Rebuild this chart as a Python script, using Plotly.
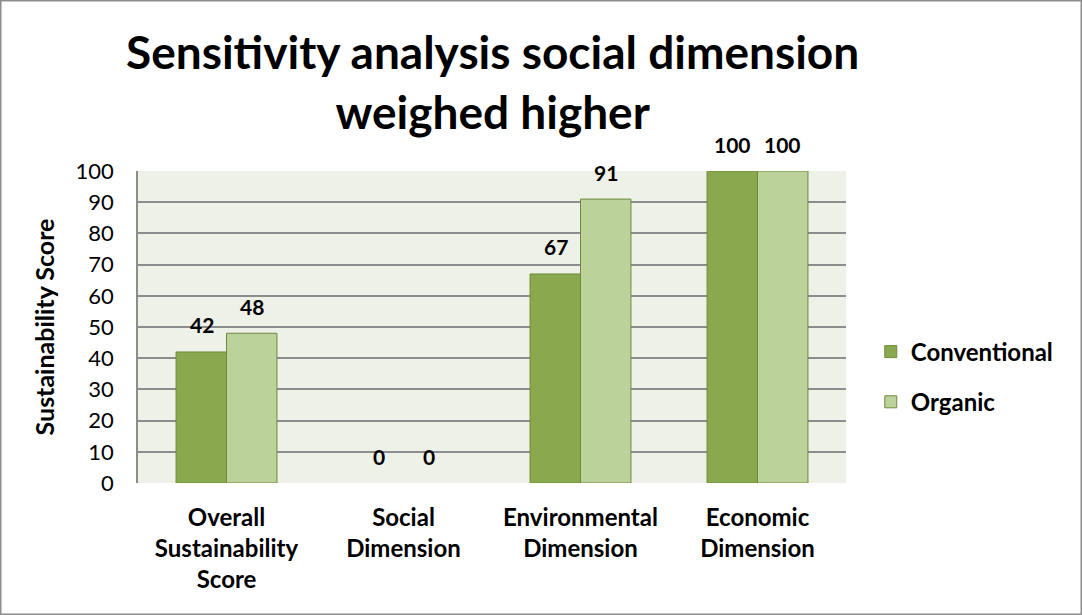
import plotly.graph_objects as go

categories = ["Overall<br>Sustainability<br>Score", "Social<br>Dimension",
              "Environmental<br>Dimension", "Economic<br>Dimension"]
conventional = [42, 0, 67, 100]
organic = [48, 0, 91, 100]
y_ticks = list(range(0, 101, 10))

FONT = "Lato"
C_CONV = "#8aa94f"
C_ORG = "#bbd29a"
EDGE = "#6f8a3c"
GRID = "#8c8c8c"

# plot-area geometry in pixels
L, R, T, B = 138, 236, 171, 132
PW, PH = 1082 - L - R, 615 - T - B

fig = go.Figure()
for name, vals, color in (("Conventional", conventional, C_CONV),
                          ("Organic", organic, C_ORG)):
    fig.add_trace(go.Bar(
        name=f"<b>{name}</b>", x=categories, y=vals, legendgroup=name,
        marker=dict(color=color,
                    line=dict(color=EDGE, width=[1 if v else 0 for v in vals]))))

# value labels above each bar
for vals, dx in ((conventional, -25), (organic, 25)):
    for cat, v in zip(categories, vals):
        fig.add_annotation(x=cat, y=v, text=f"<b>{v}</b>", showarrow=False,
                           xshift=dx, yshift=27,
                           font=dict(family=FONT, size=21, color="black"))

# chart title
fig.add_annotation(xref="paper", yref="paper", x=0.5, y=(PH + T - 82) / PH,
                   xanchor="center", yanchor="middle", showarrow=False,
                   text="<b>Sensitivity analysis social dimension<br>weighed higher</b>",
                   font=dict(family=FONT, size=46, color="black"))

fig.update_layout(
    width=1082, height=615,
    margin=dict(l=L, r=R, t=T, b=B),
    paper_bgcolor="white", plot_bgcolor="#eef1e8",
    barmode="group", bargap=0.43, bargroupgap=0,
    font=dict(family=FONT, color="black"),
    showlegend=True,
    legend=dict(x=1.035, y=(615 - B - 377) / PH, xanchor="left", yanchor="middle",
                font=dict(family=FONT, size=24, color="black"),
                tracegroupgap=16, itemwidth=30),
    xaxis=dict(showgrid=False, showline=False, ticks="",
               tickfont=dict(family=FONT, size=24, color="black"),
               ticklabelstandoff=18,
               tickvals=categories,
               ticktext=[f"<b>{c}</b>" for c in categories]),
    yaxis=dict(range=[0, 100], tickvals=y_ticks, showgrid=True,
               gridcolor=GRID, gridwidth=1.5, showline=True,
               linecolor=GRID, linewidth=1.5, ticks="", zeroline=False,
               ticklabelstandoff=18,
               tickfont=dict(family=FONT, size=22, color="black"),
               title=dict(text="<b>Sustainability Score</b>", standoff=14,
                          font=dict(family=FONT, size=25, color="black"))),
)
# outer frame of the whole chart
fig.add_shape(type="rect", xref="paper", yref="paper",
              x0=-L / PW, x1=1 + R / PW, y0=-B / PH, y1=1 + T / PH,
              line=dict(color=GRID, width=3))

fig.write_html("out.html")
